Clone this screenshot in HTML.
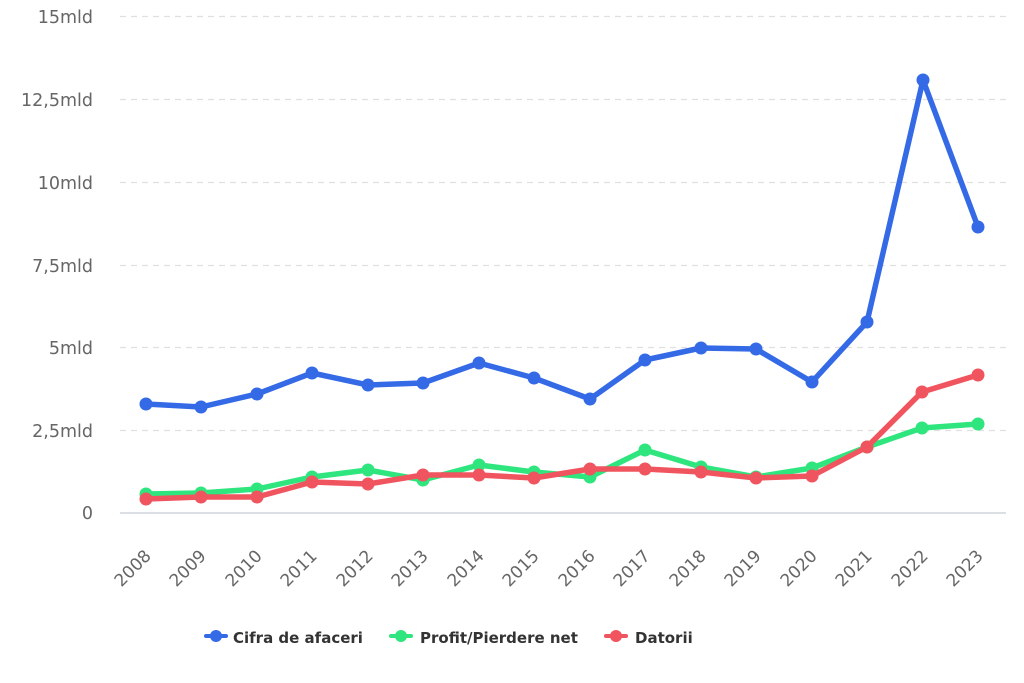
<!DOCTYPE html>
<html>
<head>
<meta charset="utf-8">
<style>
html,body{margin:0;padding:0;background:#fff;}
svg{display:block;}
.yl{font-family:"DejaVu Sans","Liberation Sans",sans-serif;font-size:17.5px;fill:#666;}
.xl{font-family:"DejaVu Sans","Liberation Sans",sans-serif;font-size:17px;fill:#666;}
.lg{font-family:"DejaVu Sans","Liberation Sans",sans-serif;font-size:15px;font-weight:bold;fill:#333;}
</style>
</head>
<body>
<svg width="1024" height="683" viewBox="0 0 1024 683" xmlns="http://www.w3.org/2000/svg">
<rect width="1024" height="683" fill="#fff"/>
<g stroke="#e0e0e0" stroke-width="1.2" stroke-dasharray="6,5">
<line x1="120" y1="16.5" x2="1006" y2="16.5"/>
<line x1="120" y1="99.5" x2="1006" y2="99.5"/>
<line x1="120" y1="182.5" x2="1006" y2="182.5"/>
<line x1="120" y1="265.5" x2="1006" y2="265.5"/>
<line x1="120" y1="347.5" x2="1006" y2="347.5"/>
<line x1="120" y1="430.5" x2="1006" y2="430.5"/>
</g>
<line x1="120" y1="513" x2="1006" y2="513" stroke="#cfd4d9" stroke-width="1.5"/>
<g class="yl" text-anchor="end">
<text x="93" y="23">15mld</text>
<text x="93" y="106">12,5mld</text>
<text x="93" y="189">10mld</text>
<text x="93" y="272">7,5mld</text>
<text x="93" y="354">5mld</text>
<text x="93" y="437">2,5mld</text>
<text x="93" y="519">0</text>
</g>
<g class="xl" text-anchor="end">
<text transform="translate(152,557) rotate(-45)">2008</text>
<text transform="translate(207,557) rotate(-45)">2009</text>
<text transform="translate(263,557) rotate(-45)">2010</text>
<text transform="translate(318,557) rotate(-45)">2011</text>
<text transform="translate(374,557) rotate(-45)">2012</text>
<text transform="translate(429,557) rotate(-45)">2013</text>
<text transform="translate(485,557) rotate(-45)">2014</text>
<text transform="translate(540,557) rotate(-45)">2015</text>
<text transform="translate(596,557) rotate(-45)">2016</text>
<text transform="translate(651,557) rotate(-45)">2017</text>
<text transform="translate(707,557) rotate(-45)">2018</text>
<text transform="translate(762,557) rotate(-45)">2019</text>
<text transform="translate(818,557) rotate(-45)">2020</text>
<text transform="translate(873,557) rotate(-45)">2021</text>
<text transform="translate(929,557) rotate(-45)">2022</text>
<text transform="translate(984,557) rotate(-45)">2023</text>
</g>
<g fill="#2fe57e" stroke="none">
<polyline fill="none" stroke="#2fe57e" stroke-width="5.5" stroke-linejoin="round" stroke-linecap="round" points="146,494 201,493 257,489 312,477 368,470 423,480 479,465 534,472 590,477 645,450 701,467 756,477 812,468 867,447 922,428 978,424"/>
<circle cx="146" cy="494" r="6.5"/><circle cx="201" cy="493" r="6.5"/><circle cx="257" cy="489" r="6.5"/><circle cx="312" cy="477" r="6.5"/><circle cx="368" cy="470" r="6.5"/><circle cx="423" cy="480" r="6.5"/><circle cx="479" cy="465" r="6.5"/><circle cx="534" cy="472" r="6.5"/><circle cx="590" cy="477" r="6.5"/><circle cx="645" cy="450" r="6.5"/><circle cx="701" cy="467" r="6.5"/><circle cx="756" cy="477" r="6.5"/><circle cx="812" cy="468" r="6.5"/><circle cx="867" cy="447" r="6.5"/><circle cx="922" cy="428" r="6.5"/><circle cx="978" cy="424" r="6.5"/>
</g>
<g fill="#f0545f" stroke="none">
<polyline fill="none" stroke="#f0545f" stroke-width="5.5" stroke-linejoin="round" stroke-linecap="round" points="146,499 201,497 257,497 312,482 368,484 423,475 479,475 534,478 590,469 645,469 701,472 756,478 812,476 867,447 922,392 978,375"/>
<circle cx="146" cy="499" r="6.5"/><circle cx="201" cy="497" r="6.5"/><circle cx="257" cy="497" r="6.5"/><circle cx="312" cy="482" r="6.5"/><circle cx="368" cy="484" r="6.5"/><circle cx="423" cy="475" r="6.5"/><circle cx="479" cy="475" r="6.5"/><circle cx="534" cy="478" r="6.5"/><circle cx="590" cy="469" r="6.5"/><circle cx="645" cy="469" r="6.5"/><circle cx="701" cy="472" r="6.5"/><circle cx="756" cy="478" r="6.5"/><circle cx="812" cy="476" r="6.5"/><circle cx="867" cy="447" r="6.5"/><circle cx="922" cy="392" r="6.5"/><circle cx="978" cy="375" r="6.5"/>
</g>
<g fill="#356ae6" stroke="none">
<polyline fill="none" stroke="#356ae6" stroke-width="5.5" stroke-linejoin="round" stroke-linecap="round" points="146,404 201,407 257,394 312,373 368,385 423,383 479,363 534,378 590,399 645,360 701,348 756,349 812,382 867,322 923,80 978,227"/>
<circle cx="146" cy="404" r="6.5"/><circle cx="201" cy="407" r="6.5"/><circle cx="257" cy="394" r="6.5"/><circle cx="312" cy="373" r="6.5"/><circle cx="368" cy="385" r="6.5"/><circle cx="423" cy="383" r="6.5"/><circle cx="479" cy="363" r="6.5"/><circle cx="534" cy="378" r="6.5"/><circle cx="590" cy="399" r="6.5"/><circle cx="645" cy="360" r="6.5"/><circle cx="701" cy="348" r="6.5"/><circle cx="756" cy="349" r="6.5"/><circle cx="812" cy="382" r="6.5"/><circle cx="867" cy="322" r="6.5"/><circle cx="923" cy="80" r="6.5"/><circle cx="978" cy="227" r="6.5"/>
</g>
<g>
<line x1="206" y1="636" x2="226" y2="636" stroke="#356ae6" stroke-width="4" stroke-linecap="round"/>
<circle cx="216" cy="636" r="6" fill="#356ae6"/>
<text class="lg" x="233" y="643">Cifra de afaceri</text>
<line x1="391" y1="636" x2="411" y2="636" stroke="#2fe57e" stroke-width="4" stroke-linecap="round"/>
<circle cx="401" cy="636" r="6" fill="#2fe57e"/>
<text class="lg" x="420" y="643">Profit/Pierdere net</text>
<line x1="606" y1="636" x2="626" y2="636" stroke="#f0545f" stroke-width="4" stroke-linecap="round"/>
<circle cx="616" cy="636" r="6" fill="#f0545f"/>
<text class="lg" x="635" y="643">Datorii</text>
</g>
</svg>
</body>
</html>
